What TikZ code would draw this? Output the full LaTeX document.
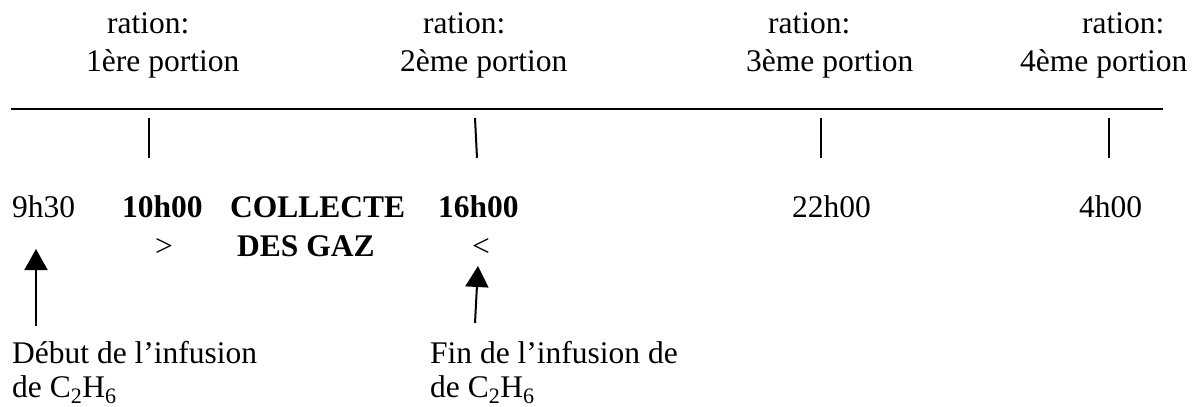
\documentclass[tikz,border=0pt]{standalone}
\usepackage{fontspec}
\setmainfont{Liberation Serif}
\usetikzlibrary{arrows.meta}
\begin{document}
\begin{tikzpicture}[x=1pt,y=-1pt,
  lbl/.style={anchor=base west, inner sep=0pt, font=\fontsize{31.5}{38}\selectfont},
  blbl/.style={anchor=base west, inner sep=0pt, font=\fontsize{31.5}{38}\selectfont\bfseries},
  rule/.style={line width=1.6pt},
  tickmark/.style={line width=2pt},
  uparrow/.style={line width=2pt, -{Triangle[width=23pt,length=21pt]}}]
\useasboundingbox (0,0) rectangle (1195,407);

% portion headings
\node[lbl] (r1) at (107,33) {ration:};
\node[lbl] (p1) at (86,71) {1ère portion};
\node[lbl] (r2) at (423,33) {ration:};
\node[lbl] (p2) at (400,71) {2ème portion};
\node[lbl] (r3) at (768,33) {ration:};
\node[lbl] (p3) at (746,71) {3ème portion};
\node[lbl] (r4) at (1082,33) {ration:};
\node[lbl] (p4) at (1020,71) {4ème portion};

% time axis
\coordinate (axL) at (11,109);
\coordinate (axR) at (1163,109);
\draw[rule] (axL) -- (axR);

% tick marks
\coordinate (t1a) at (149,118); \coordinate (t1b) at (149,158);
\coordinate (t2a) at (475,118); \coordinate (t2b) at (477,158);
\coordinate (t3a) at (821,118); \coordinate (t3b) at (821,158);
\coordinate (t4a) at (1109,118); \coordinate (t4b) at (1109,158);
\draw[tickmark] (t1a) -- (t1b);
\draw[tickmark] (t2a) -- (t2b);
\draw[tickmark] (t3a) -- (t3b);
\draw[tickmark] (t4a) -- (t4b);

% times
\node[lbl]  (h930)  at (12,217)   {9h30};
\node[blbl] (h1000) at (122,217)  {10h00};
\node[blbl] (coll)  at (230,217)  {COLLECTE};
\node[blbl] (h1600) at (438,217)  {16h00};
\node[lbl]  (h2200) at (792,217)  {22h00};
\node[lbl]  (h400)  at (1079,217) {4h00};
\node[lbl]  (gt)    at (155,256)  {>};
\node[blbl] (gaz)   at (237,256)  {DES GAZ};
\node[lbl]  (lt)    at (472,256)  {<};

% infusion notes
\node[lbl] (deb1) at (12,363)  {Début de l’infusion};
\node[lbl] (deb2) at (12,397)  {de C\textsubscript{2}H\textsubscript{6}};
\node[lbl] (fin1) at (430,363) {Fin de l’infusion de};
\node[lbl] (fin2) at (430,397) {de C\textsubscript{2}H\textsubscript{6}};

% arrows
\coordinate (a1s) at (36,326); \coordinate (a1e) at (36,249);
\coordinate (a2s) at (475,323); \coordinate (a2e) at (478,266);
\draw[uparrow] (a1s) -- (a1e);
\draw[uparrow] (a2s) -- (a2e);
\end{tikzpicture}
\end{document}
